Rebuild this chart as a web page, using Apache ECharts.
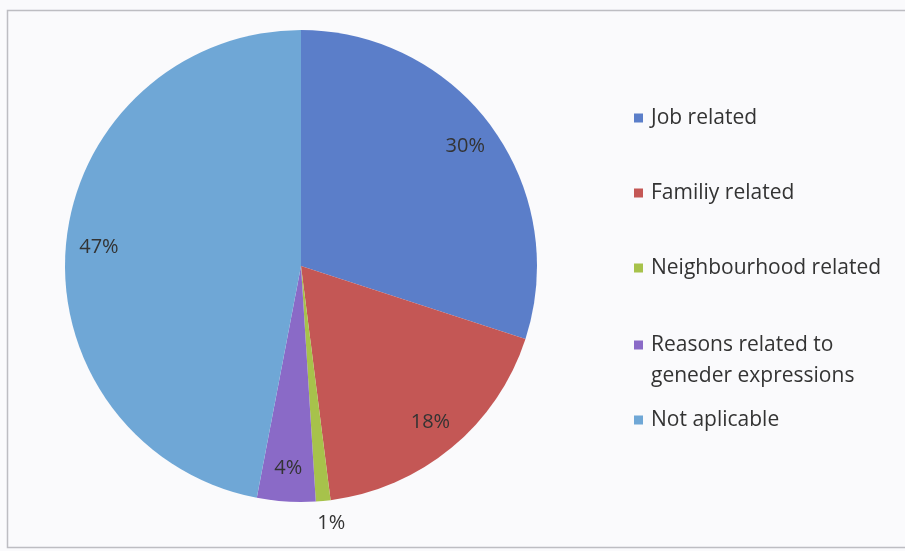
<!DOCTYPE html>
<html>
<head>
<meta charset="utf-8">
<script src="https://cdn.jsdelivr.net/npm/echarts@6/dist/echarts.min.js"></script>
<style>
  html, body { margin: 0; padding: 0; background: #fafafc; }
  #chart { width: 905px; height: 551px; }
</style>
</head>
<body>
<div id="chart"></div>
<script>
// Reasons and their share of responses (percent)
const categories = [
  'Job related',
  'Familiy related',
  'Neighbourhood related',
  'Reasons related to geneder expressions',
  'Not aplicable'
];
const values = [30, 18, 1, 4, 47];
const colors = ['#5b7ec9', '#c45755', '#a7c24b', '#8a6ac7', '#6fa7d6'];

// Legend row positions (marker centre, px) and wrapped text
const legendRows = [118, 193, 268, 345, 420];
// a leading blank line keeps the marker level with the first text line
const legendText = {
  'Reasons related to geneder expressions': '\nReasons related to\ngeneder expressions'
};

const CX = 301, CY = 266, R = 236;
const FONT = '"Open Sans", "DejaVu Sans", sans-serif';
const LH = 31;

const pieData = categories.map((name, i) => ({
  name,
  value: values[i],
  itemStyle: { color: colors[i] }
}));

// Transparent ring carrying the percentage labels near the rim
const labelData = categories.map((name, i) => {
  const item = { name, value: values[i] };
  if (values[i] < 2) {
    item.label = { position: 'outside', distanceToLabelLine: -8 };
    item.labelLine = { show: false, length: 22, length2: 0 };
  }
  return item;
});

const legends = categories.map((name, i) => {
  const twoLine = !!legendText[name];
  const offset = twoLine ? 1.5 * LH : LH / 2;
  return {
    orient: 'vertical',
    left: 634,
    top: legendRows[i] - offset,
    padding: 0,
    itemWidth: 9,
    itemHeight: 9,
    icon: 'rect',
    selectedMode: false,
    data: [name],
    formatter: (n) => legendText[n] || n,
    textStyle: {
      fontFamily: FONT,
      fontSize: 21,
      color: '#333',
      lineHeight: LH,
      padding: [0, 0, 0, 3]
    }
  };
});

const chart = echarts.init(document.getElementById('chart'), null, { renderer: 'canvas' });
chart.setOption({
  backgroundColor: '#fafafc',
  animation: false,
  graphic: [{
    type: 'rect',
    shape: { x: 7.5, y: 10.5, width: 910, height: 537 },
    style: { fill: 'none', stroke: '#bdbdc2', lineWidth: 1.5 },
    silent: true,
    z: -10
  }],
  legend: legends,
  series: [
    {
      type: 'pie',
      center: [CX, CY],
      radius: [0, R],
      startAngle: 90,
      clockwise: true,
      data: pieData,
      label: { show: false },
      labelLine: { show: false },
      itemStyle: { borderWidth: 0 },
      emphasis: { disabled: true },
      silent: true
    },
    {
      type: 'pie',
      center: [CX, CY],
      radius: [164, R],
      startAngle: 90,
      clockwise: true,
      data: labelData,
      itemStyle: { color: 'rgba(0,0,0,0)', borderWidth: 0 },
      label: {
        show: true,
        position: 'inside',
        formatter: '{c}%',
        fontFamily: FONT,
        fontSize: 20,
        color: '#333'
      },
      labelLine: { show: false },
      emphasis: { disabled: true },
      silent: true,
      z: 3
    }
  ]
});
</script>
</body>
</html>
